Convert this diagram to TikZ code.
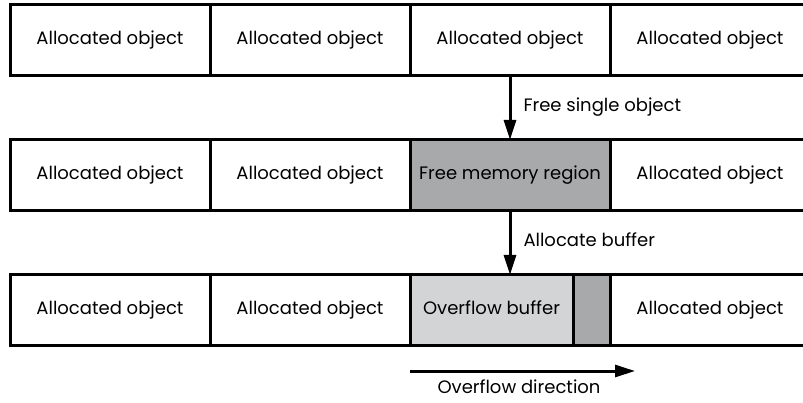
\documentclass[tikz,border=0pt]{standalone}
\usepackage{fontspec}
\setmainfont{Poppins}
\usetikzlibrary{positioning,arrows.meta}
\definecolor{freegray}{HTML}{A8A9AB}
\definecolor{bufgray}{HTML}{D3D4D6}
\tikzset{cell/.style = {draw, line width=3pt, outer sep=0pt, inner sep=0pt,
                        minimum width=200pt, minimum height=70.5pt,
                        text height=0.85em, text depth=0pt,
                        font=\fontsize{18}{21}\selectfont},
         freecell/.style = {cell, fill=freegray},
         bufcell/.style = {cell, fill=bufgray, minimum width=163pt},
         padcell/.style = {cell, fill=freegray, minimum width=37pt},
         flow/.style = {line width=3pt, -{Triangle[length=20pt,width=12pt]}},
         note/.style = {font=\fontsize{18}{21}\selectfont, inner sep=0pt,
                        text height=0.85em, text depth=0pt}}

\begin{document}
\begin{tikzpicture}[x=1pt,y=-1pt]
  \useasboundingbox (0,0) rectangle (803,402);
  \clip (0,0) rectangle (803,402);
  % before
  \node[cell, anchor=west] (a1) at (10,40.2) {Allocated object};
  \node[cell, right=0pt of a1] (a2) {Allocated object};
  \node[cell, right=0pt of a2] (a3) {Allocated object};
  \node[cell, right=0pt of a3] (a4) {Allocated object};
  % after free
  \node[cell, anchor=west] (b1) at (10,175.2) {Allocated object};
  \node[cell, right=0pt of b1] (b2) {Allocated object};
  \node[freecell, right=0pt of b2] (b3) {Free memory region};
  \node[cell, right=0pt of b3] (b4) {Allocated object};
  % after allocation
  \node[cell, anchor=west] (c1) at (10,310.2) {Allocated object};
  \node[cell, right=0pt of c1] (c2) {Allocated object};
  \node[bufcell, right=0pt of c2] (c3) {Overflow buffer};
  \node[padcell, right=0pt of c3] (c3pad) {};
  \node[cell, right=0pt of c3pad] (c4) {Allocated object};

  \draw[flow] (a3.south) -- (b3.north)
    node[note, midway, right=12pt] {Free single object};
  \draw[flow] (b3.south) -- (c3.north -| b3.south)
    node[note, midway, right=12pt] {Allocate buffer};

  \coordinate (ovstart) at (c3.west |- 0,371);
  \coordinate (ovend) at (635,371);
  \draw[flow] (ovstart) -- (ovend);
  \node[note] (ovtext) at (519,389) {Overflow direction};
\end{tikzpicture}
\end{document}
